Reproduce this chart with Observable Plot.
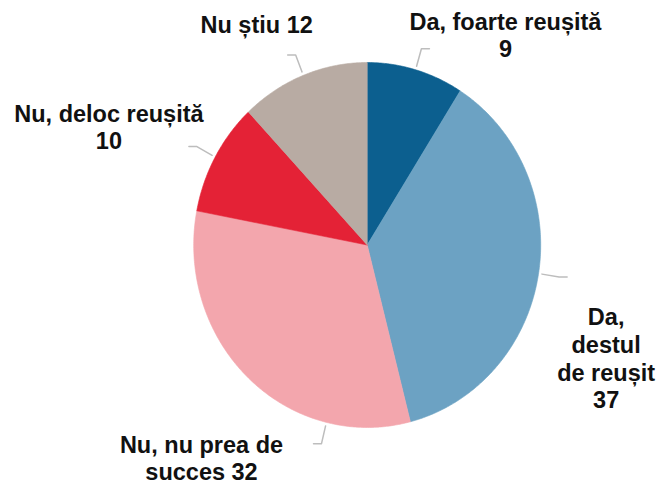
<!DOCTYPE html>
<html>
<head>
<meta charset="utf-8">
<script src="https://cdn.jsdelivr.net/npm/d3@7"></script>
<script src="https://cdn.jsdelivr.net/npm/@observablehq/plot@0.6"></script>
<style>
  html, body { margin: 0; padding: 0; background: #fff; }
</style>
</head>
<body>
<div id="chart"></div>
<script>
const categories = ["Da, foarte reușită", "Da, destul de reușit", "Nu, nu prea de succes", "Nu, deloc reușită", "Nu știu"];
const values = [9, 37, 32, 10, 12];
const labelTexts = ["Da, foarte reușită\n9", "Da,\ndestul\nde reușit\n37", "Nu, nu prea de\nsucces 32", "Nu, deloc reușită\n10", "Nu știu 12"];
const colors = ["#0c5f8f", "#6ca2c3", "#f3a6ad", "#e42236", "#b8aba3"];

// layout (pixels): label block offset from leader end, leader angle override (degrees)
const layout = [
  {dx: 76, dy: -14},
  {dx: 39, dy: 81},
  {dx: -112, dy: 14, angle: 193.6},
  {dx: -80, dy: -20},
  {dx: -31, dy: -31}
];

const pie = d3.pie().sort(null).value(d => d)(values);
const slices = pie.map((p, i) => {
  const pts = [{x: 0, y: 0}];
  const n = Math.max(2, Math.ceil((p.endAngle - p.startAngle) / 0.01));
  for (let k = 0; k <= n; k++) {
    const a = p.startAngle + (p.endAngle - p.startAngle) * k / n;
    pts.push({x: Math.sin(a), y: Math.cos(a)});
  }
  pts.push({x: 0, y: 0});
  return pts;
});

const rx = 173.5; // px per data unit (x) used for tick length conversion
const r1 = 1.02, r2 = 1.12, tick = 8 / rx;
const leaders = pie.map((p, i) => {
  const a = layout[i].angle != null ? layout[i].angle * Math.PI / 180 : (p.startAngle + p.endAngle) / 2;
  const s = Math.sin(a), c = Math.cos(a);
  const dir = s >= 0 ? 1 : -1;
  return [
    {x: r1 * s, y: r1 * c},
    {x: r2 * s, y: r2 * c},
    {x: r2 * s + dir * tick, y: r2 * c}
  ];
});

const marks = [];
slices.forEach((pts, i) => {
  marks.push(Plot.line(pts, {x: "x", y: "y", fill: colors[i], stroke: colors[i], strokeWidth: 0.6, curve: "linear"}));
});
leaders.forEach((pts, i) => {
  marks.push(Plot.line(pts, {x: "x", y: "y", stroke: "#bdbdbd", strokeWidth: 1.5}));
  const end = pts[2];
  marks.push(Plot.text([labelTexts[i]], {
    x: () => end.x, y: () => end.y, text: d => d,
    dx: layout[i].dx, dy: layout[i].dy,
    textAnchor: "middle", lineAnchor: "middle", lineHeight: 1.18,
    fontSize: 23.5, fontWeight: "bold", fill: "#111"
  }));
});

const chart = Plot.plot({
  width: 659,
  height: 484,
  marginLeft: 193.2,
  marginRight: 118.8,
  marginTop: 62,
  marginBottom: 57,
  x: {domain: [-1, 1], axis: null},
  y: {domain: [-1, 1], axis: null},
  style: {fontFamily: "'Liberation Sans', Arial, sans-serif", background: "#fff", overflow: "visible"},
  marks
});
document.getElementById("chart").appendChild(chart);
</script>
</body>
</html>
